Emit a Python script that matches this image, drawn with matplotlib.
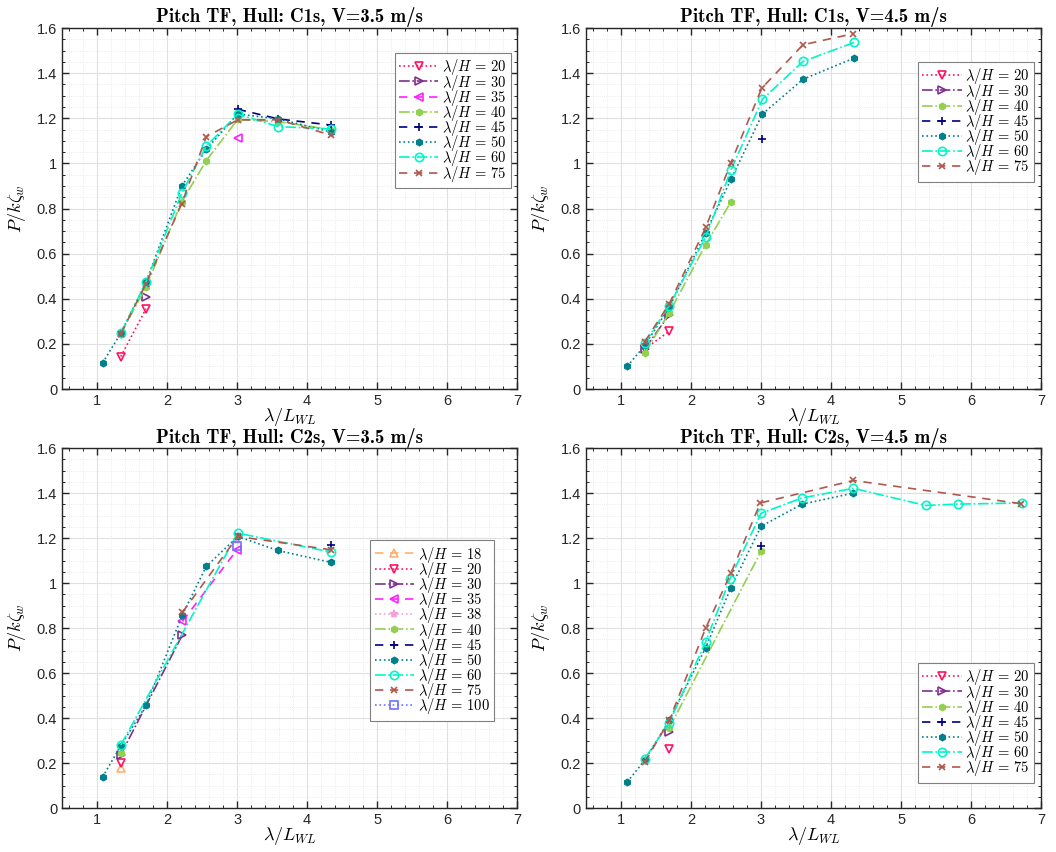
import numpy as np
import matplotlib.pyplot as plt
from matplotlib.ticker import MultipleLocator, FuncFormatter

plt.rcParams['mathtext.fontset'] = 'cm'
plt.rcParams['font.family'] = ['Liberation Sans', 'DejaVu Sans']

# lambda/H -> (x = lambda/L_WL, y = P/k zeta_w), one dict per panel
c1s_35 = {
    20: ([1.34, 1.70], [0.144, 0.356]),
    30: ([1.70], [0.410]),
    35: ([3.01], [1.111]),
    40: ([1.34, 1.70, 2.21, 2.56, 3.01, 3.59, 4.34], [0.245, 0.452, 0.830, 1.012, 1.195, 1.185, 1.150]),
    45: ([3.01, 3.59, 4.34], [1.240, 1.197, 1.170]),
    50: ([1.08, 1.34, 1.70, 2.21, 2.56, 3.01, 3.59, 4.34], [0.116, 0.247, 0.474, 0.899, 1.062, 1.219, 1.197, 1.140]),
    60: ([1.34, 1.70, 2.21, 2.56, 3.01, 3.59, 4.34], [0.247, 0.474, 0.867, 1.077, 1.218, 1.163, 1.153]),
    75: ([1.34, 1.70, 2.21, 2.56, 3.01, 3.59, 4.34], [0.245, 0.467, 0.822, 1.118, 1.193, 1.193, 1.126]),
}
c1s_45 = {
    20: ([1.34, 1.69], [0.178, 0.256]),
    30: ([1.34, 1.69], [0.178, 0.330]),
    40: ([1.34, 1.69, 2.21, 2.57], [0.160, 0.338, 0.640, 0.830]),
    45: ([3.01], [1.108]),
    50: ([1.09, 1.34, 1.69, 2.21, 2.57, 3.02, 3.60, 4.33], [0.101, 0.193, 0.363, 0.693, 0.929, 1.219, 1.373, 1.467]),
    60: ([1.34, 1.69, 2.21, 2.57, 3.02, 3.60, 4.33], [0.203, 0.370, 0.674, 0.970, 1.284, 1.452, 1.536]),
    75: ([1.34, 1.69, 2.21, 2.57, 3.01, 3.60, 4.32], [0.210, 0.378, 0.716, 1.003, 1.333, 1.526, 1.575]),
}
c2s_35 = {
    18: ([1.34], [0.178]),
    20: ([1.34], [0.200]),
    30: ([1.34, 2.22], [0.237, 0.770]),
    35: ([2.22, 3.00], [0.830, 1.148]),
    38: ([3.00], [1.190]),
    40: ([1.34], [0.245]),
    45: ([4.34], [1.170]),
    50: ([1.08, 1.34, 1.70, 2.22, 2.56, 3.01, 3.58, 4.34], [0.138, 0.277, 0.456, 0.859, 1.074, 1.207, 1.145, 1.092]),
    60: ([1.34, 3.01, 4.34], [0.280, 1.222, 1.138]),
    75: ([2.22, 3.01, 4.34], [0.870, 1.207, 1.148]),
    100: ([3.00], [1.166]),
}
c2s_45 = {
    20: ([1.69], [0.262]),
    30: ([1.69], [0.337]),
    40: ([1.69, 3.00], [0.356, 1.141]),
    45: ([3.00], [1.166]),
    50: ([1.09, 1.34, 1.69, 2.21, 2.57, 3.00, 3.58, 4.32], [0.116, 0.213, 0.390, 0.713, 0.980, 1.252, 1.350, 1.400]),
    60: ([1.34, 1.69, 2.21, 2.56, 3.00, 3.58, 4.32, 5.35, 5.82, 6.72], [0.220, 0.380, 0.740, 1.020, 1.310, 1.378, 1.421, 1.345, 1.351, 1.356]),
    75: ([1.34, 1.69, 2.21, 2.57, 2.99, 4.32, 6.71], [0.204, 0.390, 0.800, 1.044, 1.356, 1.456, 1.353]),
}

titles = ['Pitch TF, Hull: C1s, V=3.5 m/s', 'Pitch TF, Hull: C1s, V=4.5 m/s',
          'Pitch TF, Hull: C2s, V=3.5 m/s', 'Pitch TF, Hull: C2s, V=4.5 m/s']

# colour, linestyle, marker, filled
styles = {
    18: ('#FFB070', (0, (5, 4)), '^', False),
    20: ('#FF1060', ':', 'v', False),
    30: ('#7E2F8E', '-.', '>', False),
    35: ('#FF20FF', (0, (5, 4)), '<', False),
    38: ('#F5A0DC', ':', '*', True),
    40: ('#92D050', '-.', 'h', True),
    45: ('#000080', (0, (5, 4)), '+', False),
    50: ('#00808C', ':', 'h', True),
    60: ('#00F5C8', '-.', 'o', False),
    75: ('#B0584C', (0, (5, 4)), 'x', False),
    100: ('#7070FF', ':', 's', False),
}

fig = plt.figure(figsize=(10.56, 8.52), dpi=100)
positions = [[0.0587, 0.5434, 0.431, 0.4237], [0.5549, 0.5434, 0.431, 0.4237],
             [0.0587, 0.0516, 0.431, 0.4225], [0.5549, 0.0516, 0.431, 0.4225]]
legend_anchor = [(0.987, 0.931), (0.985, 0.906), (0.949, 0.744), (0.985, 0.403)]

fmt = FuncFormatter(lambda v, p: ('%g' % round(v, 2)))

for i, data in enumerate([c1s_35, c1s_45, c2s_35, c2s_45]):
    ax = fig.add_axes(positions[i])
    for lh, (xs, ys) in data.items():
        c, ls, m, filled = styles[lh]
        ms = 4.5 if m == 'h' else (5 if m == 'x' else 6)
        ax.plot(xs, ys, color=c, linestyle=ls, linewidth=1.2, marker=m, markersize=ms,
                markerfacecolor=c if filled else 'none', markeredgecolor=c, markeredgewidth=1.2,
                label=r'$\lambda/H\,=\,%d$' % lh)
    ax.set_xlim(0.5, 7)
    ax.set_ylim(0, 1.6)
    ax.xaxis.set_major_locator(MultipleLocator(1))
    ax.xaxis.set_minor_locator(MultipleLocator(0.2))
    ax.yaxis.set_major_locator(MultipleLocator(0.2))
    ax.yaxis.set_minor_locator(MultipleLocator(0.05))
    ax.yaxis.set_major_formatter(fmt)
    ax.grid(which='major', color='#E0E0E0', linewidth=0.8, linestyle='-')
    ax.grid(which='minor', color='#E6E6E6', linewidth=0.6, linestyle=':')
    ax.set_axisbelow(True)
    ax.tick_params(which='both', direction='in', top=True, right=True, colors='#262626', labelsize=10.5)
    ax.tick_params(which='major', length=5, width=1.0)
    ax.tick_params(which='minor', length=2.5, width=0.7)
    for s in ax.spines.values():
        s.set_color('#262626')
        s.set_linewidth(1.0)
    ax.set_title(titles[i], fontsize=13.5, pad=4, family=['cmb10', 'DejaVu Serif'])
    ax.set_xlabel(r'$\lambda/L_{WL}$', fontsize=13, labelpad=-1.5)
    ax.set_ylabel(r'$P/k\zeta_w$', fontsize=13, labelpad=6)
    leg = ax.legend(loc='upper right', bbox_to_anchor=legend_anchor[i], fontsize=10.5,
                    fancybox=False, framealpha=1, edgecolor='#808080', handlelength=2.7,
                    borderpad=0.3, labelspacing=-0.33, handletextpad=0.25, borderaxespad=0)
    leg.get_frame().set_linewidth(0.8)

fig.savefig('out.png', dpi=100)
